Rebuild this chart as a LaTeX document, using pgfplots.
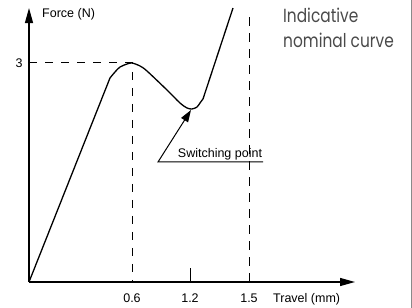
\documentclass[border=0pt]{standalone}
\usepackage{fontspec}
\setmainfont{Liberation Sans}
\newfontfamily\geo[FakeStretch=0.81]{Poppins}
\usepackage{pgfplots}
\pgfplotsset{compat=1.18}
\usetikzlibrary{arrows.meta}
\definecolor{capgray}{HTML}{4A4A4A}
\definecolor{bordergray}{HTML}{8A8A8A}
\begin{document}
\begin{tikzpicture}
\path[use as bounding box] (0,0) rectangle (412bp,308bp);
\draw[bordergray, line width=1bp] (411.5bp,0) -- (411.5bp,308bp);
\begin{axis}[
  at={(29bp,26bp)}, anchor=origin,
  x=1bp, y=73bp,
  xmin=0, xmax=326, ymin=0, ymax=3.753,
  axis lines=left,
  axis line style={line width=1.2bp, -{Triangle[length=15bp,width=8bp]}},
  clip=false,
  xtick={103,161,220}, xticklabels={0.6,1.2,1.5},
  ytick={3}, yticklabels={3},
  major tick length=0pt,
  tick style={draw=none},
  /pgf/number format/assume math mode=true,
  every tick label/.append style={font=\fontsize{12.5bp}{15bp}\selectfont},
  xticklabel style={anchor=base, yshift=-20bp},
  yticklabel style={anchor=east, xshift=-3bp},
]
% indicative nominal curve
\addplot[black, line width=1.3bp, line join=round] coordinates {(0,0) (81,2.795)};
\addplot[black, line width=1.3bp, smooth, tension=0.5] coordinates {
  (81,2.795) (86,2.877) (91,2.945) (98,2.986) (103,3.0) (111,2.959) (118,2.890)
  (138,2.630) (151,2.452) (158,2.384) (163,2.370) (168,2.397) (171,2.452) (174,2.507)};
\addplot[black, line width=1.3bp] coordinates {(174,2.507) (204,3.753)};
% reference lines
\draw[black, line width=1bp, dash pattern=on 8bp off 8bp]
  (axis cs:0,3) -- (axis cs:103,3) -- (axis cs:103,0);
\draw[black, line width=1bp, dash pattern=on 9bp off 7bp]
  (axis cs:220,0) -- (axis cs:220,3.699);
\draw[black, line width=1bp] (axis cs:161,0) -- (axis cs:161,0.192);
% switching point annotation
\draw[black, line width=1bp, -{Triangle[length=12bp,width=8bp]}]
  (axis cs:234,1.644) -- (axis cs:129,1.644) -- (axis cs:162,2.356);
\node[anchor=base, inner sep=0pt, font=\fontsize{12.5bp}{15bp}\selectfont]
  at (axis cs:191,1.712) {Switching point};
% axis labels
\node[anchor=base west, inner sep=0pt, font=\fontsize{12.5bp}{15bp}\selectfont]
  at (axis cs:13,3.63) {Force (N)};
\node[anchor=base west, inner sep=0pt, font=\fontsize{12.5bp}{15bp}\selectfont]
  at (axis cs:244,-0.274) {Travel (mm)};
\end{axis}
\node[anchor=base west, inner sep=0pt, text=capgray, font=\geo\fontsize{19bp}{22bp}\selectfont]
  at (283bp,285bp) {Indicative};
\node[anchor=base west, inner sep=0pt, text=capgray, font=\geo\fontsize{19bp}{22bp}\selectfont]
  at (283bp,260bp) {nominal curve};
\end{tikzpicture}
\end{document}
